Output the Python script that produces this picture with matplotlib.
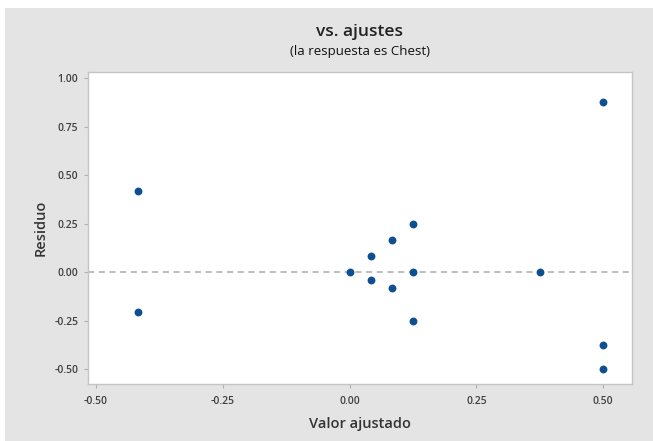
import numpy as np
import matplotlib.pyplot as plt
from matplotlib.patches import Rectangle

# fitted values and residuals (response: Chest)
ajustes = [-0.4167, -0.4167, 0.0, 0.0417, 0.0417, 0.0833, 0.0833,
           0.125, 0.125, 0.125, 0.375, 0.5, 0.5, 0.5]
residuos = [0.4167, -0.2083, 0.0, 0.0833, -0.0417, 0.1667, -0.0833,
            0.25, 0.0, -0.25, 0.0, 0.875, -0.375, -0.5]
xticks = [-0.50, -0.25, 0.00, 0.25, 0.50]
yticks = [-0.50, -0.25, 0.00, 0.25, 0.50, 0.75, 1.00]

plt.rcParams['font.family'] = ['Open Sans', 'DejaVu Sans']

W, H = 653, 441
fig = plt.figure(figsize=(W / 100, H / 100), dpi=100, facecolor='white')
# grey panel behind the chart, with a thin white strip top and left
fig.patches.append(Rectangle((5 / W, 0), 1, 1 - 8 / H, transform=fig.transFigure,
                             facecolor='#e4e4e4', edgecolor='none', zorder=-10))

ax = fig.add_axes([88 / W, 1 - 384 / H, (632 - 88) / W, (384 - 72) / H])
ax.set_facecolor('white')
ax.scatter(ajustes, residuos, s=32, color='#0e4f92', zorder=3, linewidths=0)
ax.axhline(0, color='#ababab', ls=(0, (4, 3)), lw=1.1, zorder=2)

ax.set_xlim(-0.516, 0.557)
ax.set_ylim(-0.577, 1.031)
ax.set_xticks(xticks)
ax.set_yticks(yticks)
ax.set_xticklabels([f"{t:.2f}" for t in xticks])
ax.set_yticklabels([f"{t:.2f}" for t in yticks])
ax.tick_params(length=3, width=0.8, color='#b0b0b0', labelsize=7.5,
               labelcolor='#404040')
ax.tick_params(axis='x', pad=6)
ax.tick_params(axis='y', pad=4)
for lab in ax.get_xticklabels() + ax.get_yticklabels():
    lab.set_fontweight('semibold')
for sp in ax.spines.values():
    sp.set_color('#c4c4c4')
    sp.set_linewidth(1.0)

ax.set_xlabel("Valor ajustado", fontsize=10.5, fontweight='semibold',
              color='#333333', labelpad=7)
ax.set_ylabel("Residuo", fontsize=10.5, fontweight='semibold',
              color='#333333', labelpad=5)

cx = (88 + 632) / 2 / W
fig.text(cx, 1 - 32 / H, "vs. ajustes", ha='center', va='center',
         fontsize=12.5, fontweight='semibold', color='#222222')
fig.text(cx, 1 - 52 / H, "(la respuesta es Chest)", ha='center', va='center',
         fontsize=9.5, color='#111111')

fig.savefig("out.png", dpi=100)
